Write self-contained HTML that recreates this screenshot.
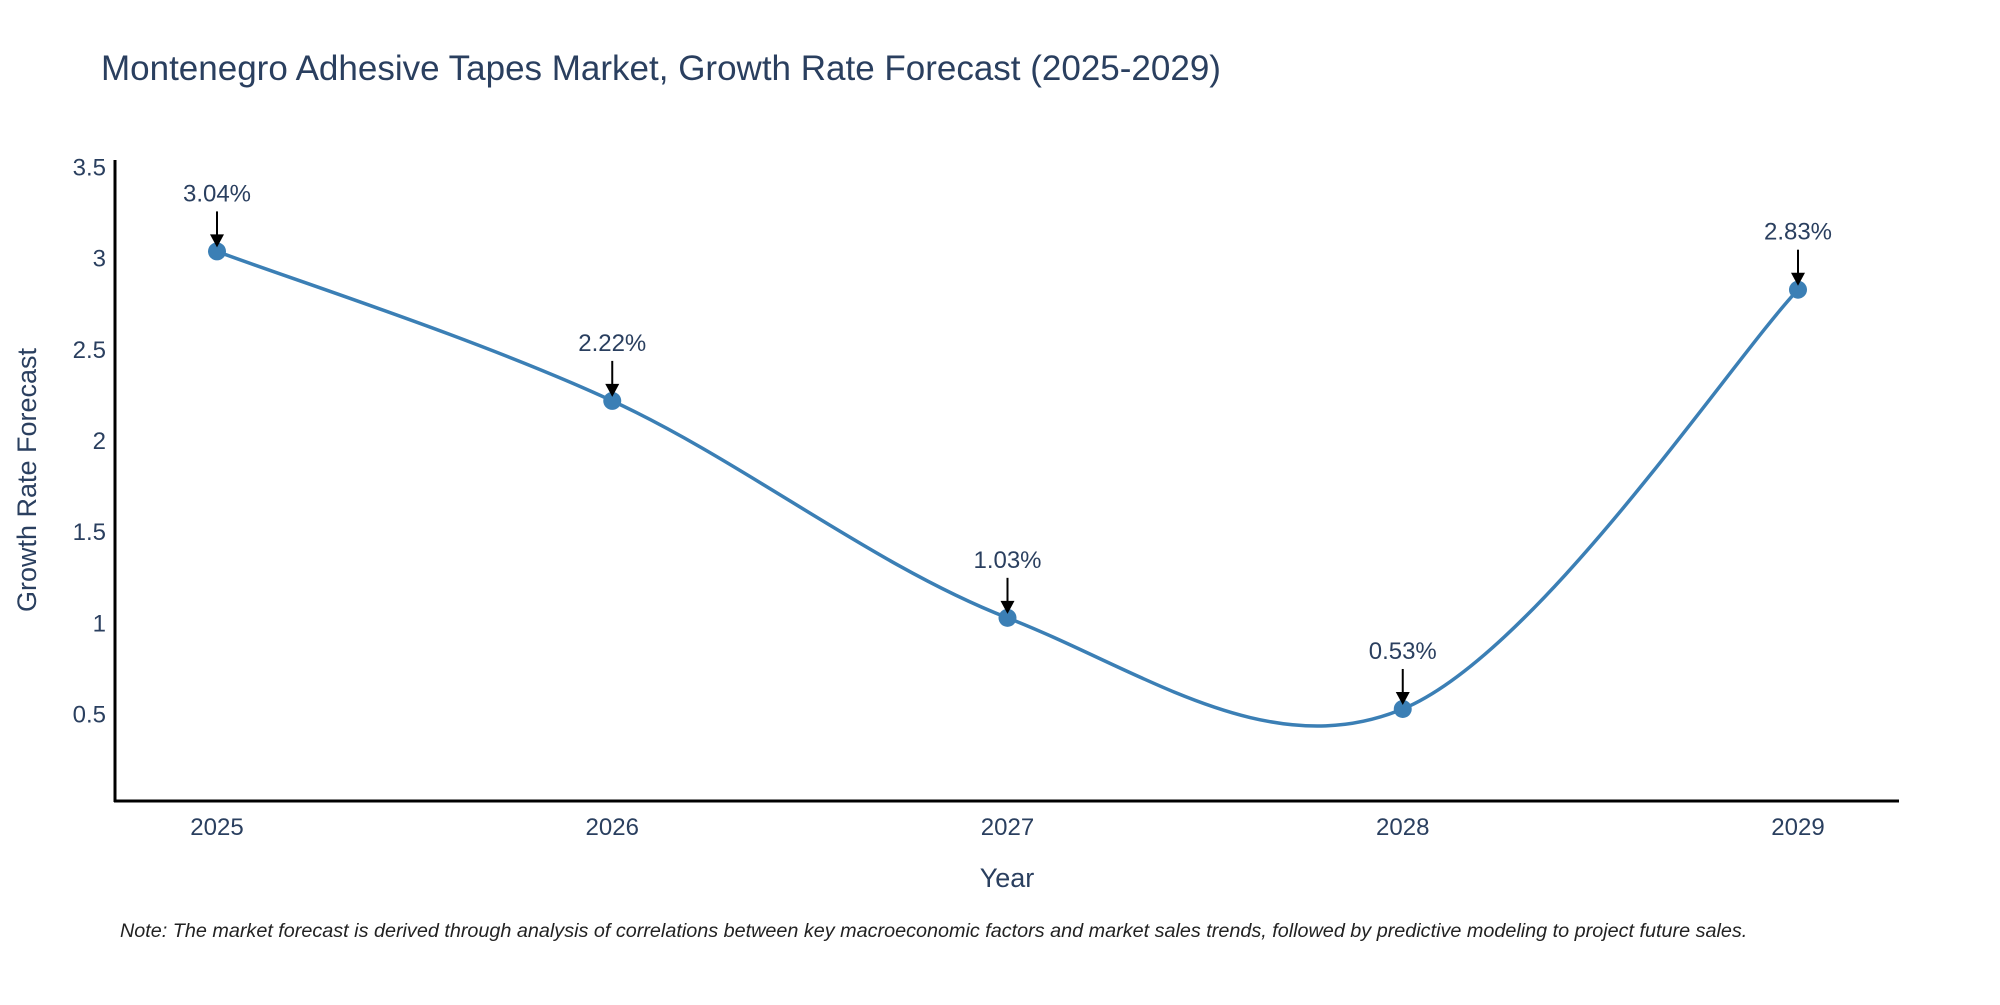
<!DOCTYPE html>
<html><head><meta charset="utf-8"><style>
body{margin:0;background:#fff;font-family:"Liberation Sans",sans-serif;}
svg text{font-family:"Liberation Sans",sans-serif;}
</style></head><body>
<svg id="chart" width="2000" height="1000" xmlns="http://www.w3.org/2000/svg">
<rect width="2000" height="1000" fill="#fff"/>
<text x="101" y="80" font-size="35" fill="#2a3f5f">Montenegro Adhesive Tapes Market, Growth Rate Forecast (2025-2029)</text>
<g id="yticks"></g><g id="xticks"></g>
<line x1="115" y1="160" x2="115" y2="802" stroke="#000" stroke-width="3"/>
<line x1="114" y1="801" x2="1899" y2="801" stroke="#000" stroke-width="3"/>
<text transform="translate(36,480) rotate(-90)" text-anchor="middle" font-size="27" fill="#2a3f5f">Growth Rate Forecast</text>
<text x="1007" y="887" text-anchor="middle" font-size="27" fill="#2a3f5f">Year</text>
<path id="line" fill="none" stroke="#3b7fb5" stroke-width="3.5"/>
<g id="points"></g>
<text x="120" y="937" font-size="19.8" font-style="italic" fill="#222">Note: The market forecast is derived through analysis of correlations between key macroeconomic factors and market sales trends, followed by predictive modeling to project future sales.</text>
</svg>
<script>
const years=[2025,2026,2027,2028,2029];
const values=[3.04,2.22,1.03,0.53,2.83];
const yTicks=[0.5,1,1.5,2,2.5,3,3.5];
const NS="http://www.w3.org/2000/svg";
function xs(i){return 217+(1798-217)*i/(years.length-1);}
function ys(v){return 805.6-182.3*v;}
const yt=document.getElementById('yticks');
yTicks.forEach(t=>{const e=document.createElementNS(NS,'text');


e.setAttribute('x',106);e.setAttribute('y',ys(t)+8);e.setAttribute('text-anchor','end');e.setAttribute('font-size','24');e.setAttribute('fill','#2a3f5f');e.textContent=t;yt.appendChild(e);});
const xt=document.getElementById('xticks');
years.forEach((y,i)=>{const e=document.createElementNS(NS,'text');


e.setAttribute('x',xs(i));e.setAttribute('y',835);e.setAttribute('text-anchor','middle');e.setAttribute('font-size','24');e.setAttribute('fill','#2a3f5f');e.textContent=y;xt.appendChild(e);});
const P=values.map((v,i)=>[xs(i),ys(v)]);
let d='M'+P[0][0]+','+P[0][1];const k=0.17;
for(let i=0;i<P.length-1;i++){const p0=P[Math.max(0,i-1)],p1=P[i],p2=P[i+1],p3=P[Math.min(P.length-1,i+2)];
const c1=[p1[0]+(p2[0]-p0[0])*k,p1[1]+(p2[1]-p0[1])*k],c2=[p2[0]-(p3[0]-p1[0])*k,p2[1]-(p3[1]-p1[1])*k];
d+=' C'+c1+' '+c2+' '+p2;}
document.getElementById('line').setAttribute('d',d);
const pg=document.getElementById('points');
P.forEach((p,i)=>{const c=document.createElementNS(NS,'circle');


c.setAttribute('cx',p[0]);c.setAttribute('cy',p[1]);c.setAttribute('r',9);c.setAttribute('fill','#3b7fb5');pg.appendChild(c);
const l=document.createElementNS(NS,'line');


l.setAttribute('x1',p[0]);l.setAttribute('y1',p[1]-40);l.setAttribute('x2',p[0]);l.setAttribute('y2',p[1]-14);l.setAttribute('stroke','#000');l.setAttribute('stroke-width','2');pg.appendChild(l);
const a=document.createElementNS(NS,'path');


a.setAttribute('d',`M${p[0]-7},${p[1]-17} L${p[0]+7},${p[1]-17} L${p[0]},${p[1]-4} Z`);a.setAttribute('fill','#000');pg.appendChild(a);
const t=document.createElementNS(NS,'text');


t.setAttribute('x',p[0]);t.setAttribute('y',p[1]-50);t.setAttribute('text-anchor','middle');t.setAttribute('font-size','24');t.setAttribute('fill','#2a3f5f');t.textContent=values[i].toFixed(2)+'%';pg.appendChild(t);});
</script>
</body></html>
